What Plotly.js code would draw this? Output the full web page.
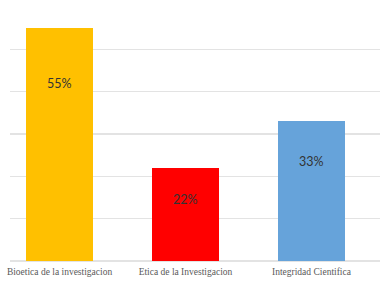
<!DOCTYPE html>
<html><head><meta charset="utf-8">
<script src="https://cdn.plot.ly/plotly-3.0.1.min.js"></script>
<style>html,body{margin:0;padding:0;background:#fff}#c{width:380px;height:282px}</style>
</head><body><div id="c"></div>
<script>
const categories = ["Bioetica de la investigacion", "Etica de la Investigacion", "Integridad Cientifica"];
const values = [55, 22, 33];
const labels = ["55%", "22%", "33%"];
const colors = ["#FFC000", "#FF0000", "#66A3DA"];
const labelHeights = [42, 14.5, 23.5];

const trace = {
  type: "bar",
  x: categories,
  y: values,
  width: 0.53,
  marker: {color: colors},
  hoverinfo: "none"
};
const annotations = categories.map((c, i) => ({
  x: c, y: labelHeights[i], xref: "x", yref: "y",
  text: labels[i], showarrow: false,
  font: {family: "Lato", size: 12.5, color: "#333333"}
}));
const layout = {
  width: 380, height: 282,
  margin: {l: 10, r: 0, t: 6, b: 21},
  paper_bgcolor: "#fff", plot_bgcolor: "#fff",
  showlegend: false,
  bargap: 0,
  xaxis: {
    type: "category", range: [-0.393, 2.544],
    showgrid: false, showline: false, zeroline: false, ticks: "",
    ticklabelstandoff: 3,
    tickfont: {family: "Liberation Serif", size: 9.5, color: "#595959"}
  },
  yaxis: {
    range: [0, 60.2], dtick: 10, showticklabels: false, ticks: "",
    gridcolor: "#E3E3E3", gridwidth: 1.3, zeroline: true, zerolinecolor: "#E3E3E3", zerolinewidth: 1.3,
    showline: false
  },
  annotations: annotations
};
Plotly.newPlot("c", [trace], layout, {staticPlot: true});
</script></body></html>
